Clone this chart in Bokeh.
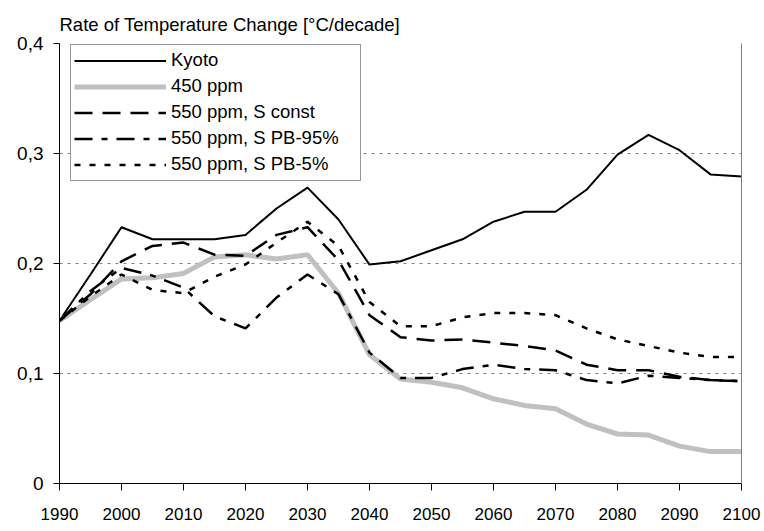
from bokeh.plotting import figure
from bokeh.models import (Legend, LegendItem, LinearAxis, FixedTicker,
                          CustomJSTickFormatter, Range1d)
from bokeh.embed import file_html
from bokeh.resources import INLINE

years = [1990, 1995, 2000, 2005, 2010, 2015, 2020, 2025, 2030, 2035, 2040, 2045,
         2050, 2055, 2060, 2065, 2070, 2075, 2080, 2085, 2090, 2095, 2100]

kyoto = [0.148, 0.190, 0.233, 0.222, 0.222, 0.222, 0.226, 0.250, 0.269, 0.240, 0.199, 0.202,
         0.212, 0.222, 0.238, 0.247, 0.247, 0.267, 0.299, 0.317, 0.303, 0.281, 0.279]
ppm450 = [0.148, 0.167, 0.186, 0.187, 0.191, 0.206, 0.208, 0.204, 0.208, 0.173, 0.117, 0.095,
          0.092, 0.087, 0.077, 0.071, 0.068, 0.054, 0.045, 0.044, 0.034, 0.029, 0.029]
s_const = [0.148, 0.172, 0.202, 0.216, 0.219, 0.208, 0.207, 0.226, 0.233, 0.203, 0.153, 0.133,
           0.130, 0.131, 0.128, 0.125, 0.121, 0.108, 0.103, 0.103, 0.097, 0.094, 0.093]
s_pb95 = [0.148, 0.175, 0.196, 0.189, 0.178, 0.152, 0.141, 0.169, 0.190, 0.172, 0.119, 0.096,
          0.096, 0.104, 0.108, 0.104, 0.103, 0.094, 0.091, 0.098, 0.096, 0.094, 0.093]
s_pb5 = [0.148, 0.170, 0.190, 0.176, 0.173, 0.188, 0.199, 0.219, 0.238, 0.216, 0.165, 0.143,
         0.143, 0.151, 0.155, 0.155, 0.153, 0.141, 0.131, 0.125, 0.119, 0.115, 0.115]

series_names = ["Kyoto", "450 ppm", "550 ppm, S const", "550 ppm, S PB-95%", "550 ppm, S PB-5%"]
y_ticks = [0, 0.1, 0.2, 0.3, 0.4]
x_ticks = [1990, 2000, 2010, 2020, 2030, 2040, 2050, 2060, 2070, 2080, 2090, 2100]

FONT = "Liberation Sans"
W, H = 764, 531
BL, BR, BT, BB = 59, 23, 43, 48

p = figure(width=W, height=H, output_backend="svg", toolbar_location=None,
           x_range=Range1d(1990, 2100), y_range=Range1d(0, 0.4),
           min_border_left=BL, min_border_right=BR, min_border_top=BT, min_border_bottom=BB,
           title="Rate of Temperature Change [°C/decade]")
p.outline_line_color = None
p.background_fill_color = "white"
p.border_fill_color = "white"

p.title.text_font = FONT
p.title.text_font_size = "18.5px"
p.title.text_font_style = "normal"
p.title.text_color = "black"
p.title.align = "left"
p.title.standoff = 18

# grid
p.xgrid.grid_line_color = None
p.ygrid.grid_line_color = "#808080"
p.ygrid.grid_line_dash = "3 5"
p.ygrid.grid_line_width = 1
p.ygrid.ticker = FixedTicker(ticks=y_ticks)

# axes
xa = p.xaxis[0]
xa.ticker = FixedTicker(ticks=x_ticks)
xa.minor_tick_line_color = None
xa.major_tick_in = 0
xa.major_tick_out = 7
xa.major_label_standoff = 17
xa.axis_line_color = "black"
xa.major_tick_line_color = "black"
xa.major_label_text_font = FONT
xa.major_label_text_font_size = "17px"
xa.major_label_text_color = "black"

ya = p.yaxis[0]
ya.ticker = FixedTicker(ticks=y_ticks)
ya.formatter = CustomJSTickFormatter(code="return tick == 0 ? '0' : tick.toFixed(1).replace('.', ',');")
ya.minor_tick_line_color = None
ya.major_tick_in = 0
ya.major_tick_out = 6
ya.major_label_standoff = 10
ya.axis_line_color = "black"
ya.major_tick_line_color = "black"
ya.major_label_text_font = FONT
ya.major_label_text_font_size = "19px"
ya.major_label_text_color = "black"

ra = LinearAxis(major_tick_line_color=None, minor_tick_line_color=None,
                major_label_text_font_size="0px", axis_line_color="#808080",
                major_tick_out=0, major_tick_in=0, major_label_standoff=0)
ra.ticker = FixedTicker(ticks=[])
p.add_layout(ra, "right")

r1 = p.line(years, kyoto, line_color="black", line_width=2)
r2 = p.line(years, ppm450, line_color="#c0c0c0", line_width=5)
r3 = p.line(years, s_const, line_color="black", line_width=2.5, line_dash="18 10")
r4 = p.line(years, s_pb95, line_color="black", line_width=2.5, line_dash="18 9 6 9")
r5 = p.line(years, s_pb5, line_color="black", line_width=2.5, line_dash="6 9")

items = [LegendItem(label=n, renderers=[r]) for n, r in zip(series_names, [r1, r2, r3, r4, r5])]
frame_h = H - BT - BB
legend = Legend(items=items, location=(11, frame_h - 2.7 - 135),
                glyph_width=92, glyph_height=25, label_height=25, label_width=186,
                label_standoff=5, spacing=1, padding=3, margin=0,
                label_text_font=FONT, label_text_font_size="18.5px", label_text_color="black",
                border_line_color="#333333", border_line_width=1,
                background_fill_color="white", background_fill_alpha=1)
p.add_layout(legend, "center")

open("out.html", "w").write(file_html(p, INLINE))
